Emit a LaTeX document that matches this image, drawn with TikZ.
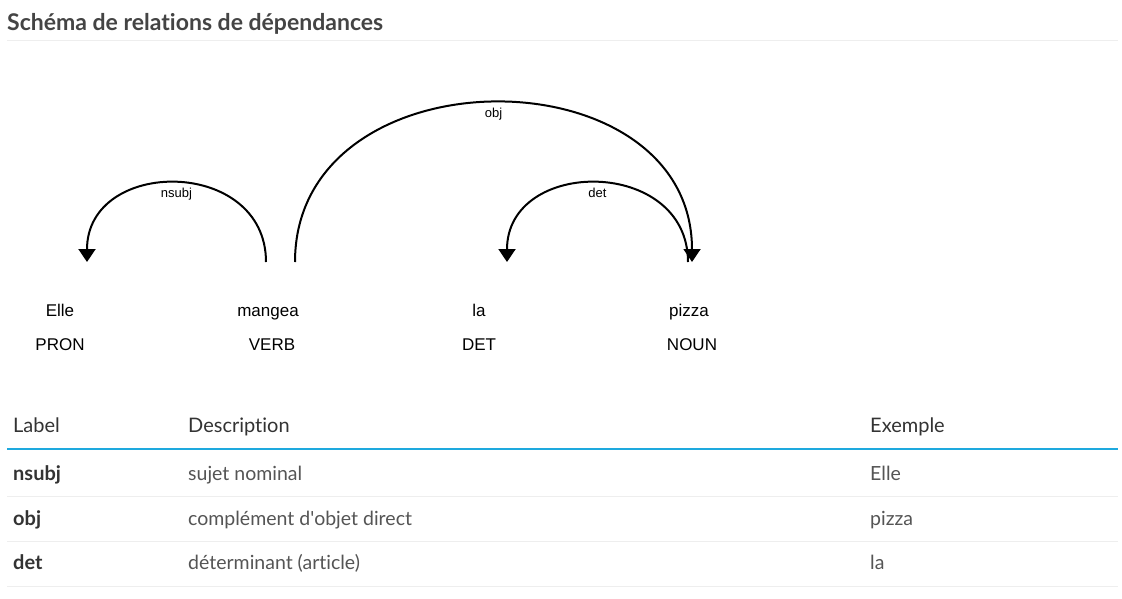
\documentclass[tikz,border=0pt]{standalone}
\usepackage{fontspec}
\setmainfont{Lato}[Ligatures=NoCommon]
\newfontfamily\depfont{Liberation Sans}
\usetikzlibrary{arrows.meta}
\definecolor{titlegray}{HTML}{444444}
\definecolor{headgray}{HTML}{333333}
\definecolor{cellgray}{HTML}{555555}
\definecolor{rulegray}{HTML}{EEEEEE}
\definecolor{ruleblue}{HTML}{1EA9DE}
\newcommand{\ArcH}[0]{105}

\begin{document}
\begin{tikzpicture}[x=1pt, y=-1pt,
  word/.style={font=\depfont\fontsize{17}{20}\selectfont, inner sep=0pt, anchor=base},
  arclabel/.style={font=\depfont\fontsize{13}{15}\selectfont, inner sep=1pt, anchor=north, yshift=-3pt},
  deparc/.style={line width=2pt, -{Triangle[width=17pt,length=13pt]}},
  cell/.style={anchor=base west, inner sep=0pt, text=cellgray, font=\fontsize{19.5}{23}\selectfont},
  headcell/.style={cell, text=headgray, font=\fontsize{20}{24}\selectfont},
  tagcell/.style={cell, text=headgray, font=\bfseries\fontsize{20}{24}\selectfont}]

  \useasboundingbox[fill=white] (0,0) rectangle (1122,598);

  %% title
  \node[anchor=base west, inner sep=0pt, text=titlegray, font=\bfseries\fontsize{23}{27}\selectfont]
    (title) at (7,30) {Schéma de relations de dépendances};
  \draw[rulegray, line width=1pt] (7,40) -- (1118,40);

  %% words and tags
  \node[word] (w-elle)   at (60,316)  {Elle};
  \node[word] (w-mangea) at (268,316) {mangea};
  \node[word] (w-la)     at (479,316) {la};
  \node[word] (w-pizza)  at (689,316) {pizza};

  \node[word] (t-pron) at (60,350)  {PRON};
  \node[word] (t-verb) at (272,350) {VERB};
  \node[word] (t-det)  at (479,350) {DET};
  \node[word] (t-noun) at (692,350) {NOUN};

  %% arc ends
  \coordinate (nsubj-s) at (266,262);
  \coordinate (nsubj-e) at (87,262);
  \coordinate (obj-s)   at (295,262);
  \coordinate (obj-e)   at (692,262);
  \coordinate (det-s)   at (688,262);
  \coordinate (det-e)   at (507,262);

  \draw[deparc] (nsubj-s) .. controls +(0,-\ArcH) and +(0,-\ArcH) .. (nsubj-e)
    node[arclabel, pos=0.5] (l-nsubj) {nsubj}; %% mangea -> Elle
  \draw[deparc] (obj-s) .. controls +(0,-212) and +(0,-212) .. (obj-e)
    node[arclabel, pos=0.5] (l-obj) {obj}; %% mangea -> pizza
  \draw[deparc] (det-s) .. controls +(0,-\ArcH) and +(0,-\ArcH) .. (det-e)
    node[arclabel, pos=0.5] (l-det) {det}; %% pizza -> la

  %% table
  \node[headcell] (h-label) at (13,432)  {Label};
  \node[headcell] (h-desc)  at (188,432) {Description};
  \node[headcell] (h-ex)    at (870,432) {Exemple};
  \draw[ruleblue, line width=2pt] (7,449) -- (1118,449);

  \node[tagcell] (r1-tag)  at (13,480)  {nsubj};
  \node[cell]    (r1-desc) at (188,480) {sujet nominal};
  \node[cell]    (r1-ex)   at (870,480) {Elle};
  \draw[rulegray, line width=1pt] (7,496) -- (1118,496);

  \node[tagcell] (r2-tag)  at (13,525)  {obj};
  \node[cell]    (r2-desc) at (188,525) {complément d\textquotesingle objet direct};
  \node[cell]    (r2-ex)   at (870,525) {pizza};
  \draw[rulegray, line width=1pt] (7,541) -- (1118,541);

  \node[tagcell] (r3-tag)  at (13,569)  {det};
  \node[cell]    (r3-desc) at (188,569) {déterminant (article)};
  \node[cell]    (r3-ex)   at (870,569) {la};
  \draw[rulegray, line width=1pt] (7,586) -- (1118,586);

\end{tikzpicture}
\end{document}
